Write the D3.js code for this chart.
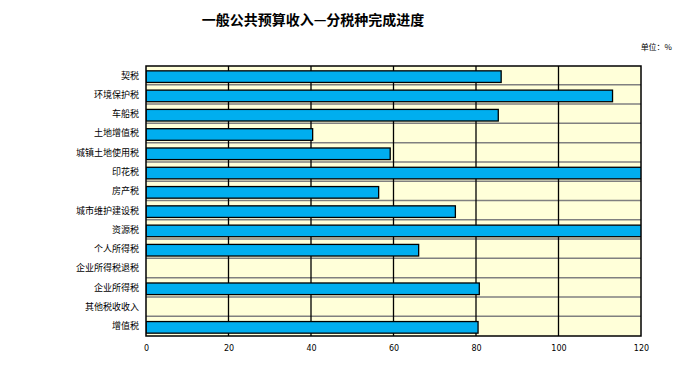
<!DOCTYPE html>
<html>
<head>
<meta charset="utf-8">
<script src="https://cdn.jsdelivr.net/npm/d3@7"></script>
<style>
    body { margin: 0; background: #fff; }
    text { font-family: "Noto Sans CJK SC", sans-serif; }
</style>
</head>
<body>
<div class="js-chart"></div>
<script>
'use strict';

//categories top to bottom, values in %
var categories = ['契税', '环境保护税', '车船税', '土地增值税', '城镇土地使用税', '印花税', '房产税',
    '城市维护建设税', '资源税', '个人所得税', '企业所得税退税', '企业所得税', '其他税收收入', '增值税'];
var values = [86.1, 113.1, 85.4, 40.4, 59.2, 135, 56.4, 75.0, 135, 66.1, null, 80.8, null, 80.5];
var xTicks = [0, 20, 40, 60, 80, 100, 120];

var dim = { w: 692, h: 392 };
var plot = { left: 146, right: 641, top: 66, bottom: 336 };

var svg = d3.select('.js-chart').append('svg')
    .attr('width', dim.w)
    .attr('height', dim.h);

var x = d3.scaleLinear().domain([0, 120]).range([plot.left, plot.right]);
var y = d3.scaleBand().domain(categories).range([plot.top, plot.bottom]);

//title and unit
svg.append('text')
    .attr('x', 313).attr('y', 25)
    .attr('text-anchor', 'middle')
    .style('font-size', '14px').style('font-weight', 'bold')
    .text('一般公共预算收入—分税种完成进度');
svg.append('text')
    .attr('x', 672).attr('y', 50)
    .attr('text-anchor', 'end')
    .style('font-size', '8px')
    .text('单位：%');

//plot background
svg.append('rect')
    .attr('x', plot.left).attr('y', plot.top)
    .attr('width', plot.right - plot.left).attr('height', plot.bottom - plot.top)
    .style('fill', '#ffffd9');

//grey lines between categories
svg.selectAll('.js-hl').data(categories.slice(1)).enter().append('line')
    .attr('class', 'js-hl')
    .attr('x1', plot.left).attr('x2', plot.right)
    .attr('y1', function (d) { return y(d) - 0.5; })
    .attr('y2', function (d) { return y(d) - 0.5; })
    .style('stroke', '#808080').style('stroke-width', 1.5);

//vertical grid
svg.selectAll('.js-vl').data(xTicks.slice(1, -1)).enter().append('line')
    .attr('class', 'js-vl')
    .attr('x1', function (d) { return x(d); })
    .attr('x2', function (d) { return x(d); })
    .attr('y1', plot.top).attr('y2', plot.bottom)
    .style('stroke', '#000').style('stroke-width', 1.3);

//bars, clipped to plot
svg.append('clipPath').attr('id', 'clip').append('rect')
    .attr('x', plot.left).attr('y', plot.top)
    .attr('width', plot.right - plot.left).attr('height', plot.bottom - plot.top);

var bh = 11.6;
svg.append('g').attr('clip-path', 'url(#clip)')
    .selectAll('rect').data(categories).enter().append('rect')
    .filter(function (d, i) { return values[i] !== null; })
    .attr('x', x(0))
    .attr('y', function (d) { return y(d) + y.bandwidth() / 2 - bh / 2 + 1; })
    .attr('width', function (d) { return x(values[categories.indexOf(d)]) - x(0); })
    .attr('height', bh)
    .style('fill', '#00aeef')
    .style('stroke', '#000').style('stroke-width', 1.3);

//plot border
svg.append('rect')
    .attr('x', plot.left).attr('y', plot.top)
    .attr('width', plot.right - plot.left).attr('height', plot.bottom - plot.top)
    .style('fill', 'none').style('stroke', '#000').style('stroke-width', 1.5);

//axes
var xAxis = svg.append('g')
    .attr('transform', 'translate(0,' + plot.bottom + ')')
    .call(d3.axisBottom(x).tickValues(xTicks).tickSize(0).tickPadding(9));
xAxis.select('.domain').remove();
xAxis.selectAll('text').style('font-size', '8px').style('font-family', 'Verdana, "DejaVu Sans", sans-serif').attr('fill', '#000');

var yAxis = svg.append('g')
    .attr('transform', 'translate(' + (plot.left - 7) + ',0)')
    .call(d3.axisLeft(y).tickSize(0).tickPadding(0));
yAxis.select('.domain').remove();
yAxis.selectAll('text').style('font-size', '9px').attr('fill', '#000');
</script>
</body>
</html>
